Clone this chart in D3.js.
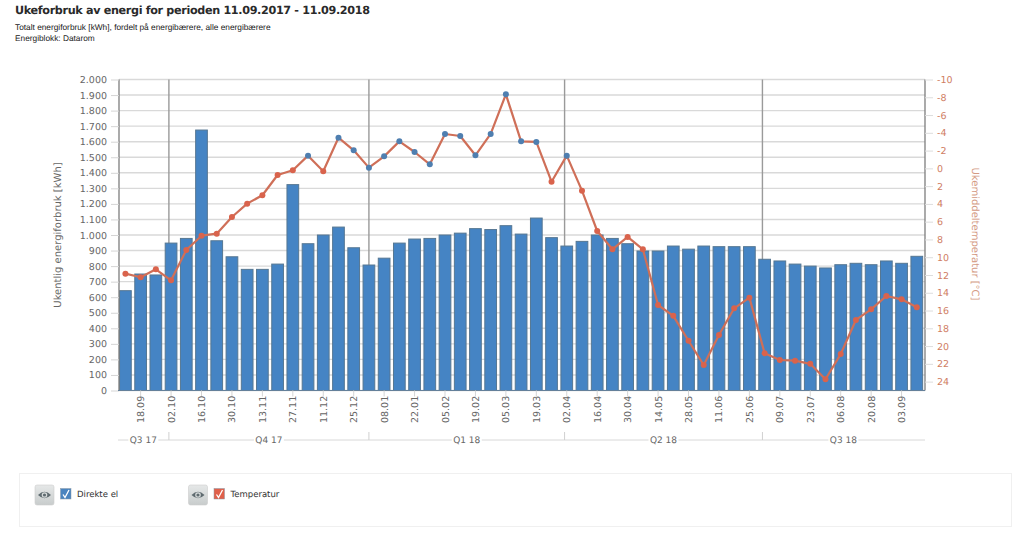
<!DOCTYPE html>
<html><head><meta charset="utf-8">
<script src="https://cdnjs.cloudflare.com/ajax/libs/d3/7.8.5/d3.min.js"></script>
<style>html,body{margin:0;padding:0;background:#fff}svg{display:block}text{text-rendering:geometricPrecision}</style>
</head><body><svg id="c" width="1024" height="538"></svg>
<script>
const categories=["11.09","18.09","25.09","02.10","09.10","16.10","23.10","30.10","06.11","13.11","20.11","27.11","04.12","11.12","18.12","25.12","01.01","08.01","15.01","22.01","29.01","05.02","12.02","19.02","26.02","05.03","12.03","19.03","26.03","02.04","09.04","16.04","23.04","30.04","07.05","14.05","21.05","28.05","04.06","11.06","18.06","25.06","02.07","09.07","16.07","23.07","30.07","06.08","13.08","20.08","27.08","03.09","10.09"];
const tickLabels=["18.09","02.10","16.10","30.10","13.11","27.11","11.12","25.12","08.01","22.01","05.02","19.02","05.03","19.03","02.04","16.04","30.04","14.05","28.05","11.06","25.06","09.07","23.07","06.08","20.08","03.09"];
const energy=[642,749,743,948,978,1675,963,860,779,779,813,1324,944,1000,1051,918,807,851,948,974,978,1000,1012,1041,1035,1060,1006,1109,983,929,959,1000,978,944,897,897,929,909,929,925,925,925,844,833,813,800,788,809,818,809,833,818,863];
const temperature=[11.85,12.26,11.36,12.6,9.19,7.58,7.35,5.47,3.97,3.03,0.75,0.22,-1.43,0.33,-3.45,-2.03,-0.08,-1.35,-3.04,-1.84,-0.45,-3.87,-3.64,-1.47,-3.87,-8.33,-3.04,-2.97,1.5,-1.43,2.51,7.05,9.11,7.72,9.11,15.38,16.6,19.4,22.13,18.75,15.75,14.55,20.8,21.57,21.64,22.0,23.74,20.9,17.06,15.87,14.36,14.74,15.64];
const leftTicks=[0,100,200,300,400,500,600,700,800,900,1000,1100,1200,1300,1400,1500,1600,1700,1800,1900,2000];
const rightTicks=[-10,-8,-6,-4,-2,0,2,4,6,8,10,12,14,16,18,20,22,24];
const quarterDates=["2017-10-01","2018-01-01","2018-04-01","2018-07-01"];
const quarters=[["Q3 17","2017-09-07T12:00Z","2017-10-01"],["Q4 17","2017-10-01","2018-01-01"],["Q1 18","2018-01-01","2018-04-01"],["Q2 18","2018-04-01","2018-07-01"],["Q3 18","2018-07-01","2018-09-13T12:00Z"]];
const titleText="Ukeforbruk av energi for perioden 11.09.2017 - 11.09.2018";
const subtitleLines=["Totalt energiforbruk [kWh], fordelt på energibærere, alle energibærere","Energiblokk: Datarom"];
const legendItems=[["Direkte el","#4a84bf"],["Temperatur","#e0604a"]];

const L=119,R=925,T=79.5,B=390.5;
const svg=d3.select("#c");
const font="'DejaVu Sans',sans-serif";
const x=d3.scaleBand().domain(categories).range([L-1.2,R-0.6]).paddingInner(0.23).paddingOuter(0.115);
const xt=d3.scaleUtc().domain([new Date("2017-09-07T12:00Z"),new Date("2018-09-13T12:00Z")]).range([L-1.2,R-0.6]);
const y=d3.scaleLinear().domain([0,2000]).range([B,T]);
const y2=d3.scaleLinear().domain([-10,25]).range([T,B]);
const cx=d=>x(d)+x.bandwidth()/2;

// headings
svg.append("text").attr("x",15).attr("y",13.7).attr("font-family",font).attr("font-weight","bold").attr("font-size",11.2).attr("fill","#2a2a2a").attr("textLength",355).text(titleText);
subtitleLines.forEach((s,i)=>svg.append("text").attr("x",15).attr("y",30.3+i*11).attr("font-family","'Liberation Sans',sans-serif").attr("font-size",8.3).attr("fill","#222").text(s));

// grid
svg.append("g").selectAll("line").data(leftTicks).join("line").attr("x1",L).attr("x2",R).attr("y1",d=>y(d)).attr("y2",d=>y(d)).attr("stroke","#d9d9d9").attr("stroke-width",1.4);
// quarter lines in plot
svg.append("g").selectAll("line").data(quarterDates).join("line").attr("x1",d=>xt(new Date(d))).attr("x2",d=>xt(new Date(d))).attr("y1",T).attr("y2",B).attr("stroke","#9a9a9a").attr("stroke-width",1.4);

// bars
svg.append("g").selectAll("rect").data(energy).join("rect")
 .attr("x",(d,i)=>x(categories[i])).attr("width",x.bandwidth())
 .attr("y",d=>y(d)).attr("height",d=>B-y(d))
 .attr("fill","#4584c4").attr("stroke","#567792").attr("stroke-width",1);

// axes
const ga=d3.axisLeft(y).tickValues(leftTicks).tickFormat(d=>d===0?"0":d3.format(",")(d).replace(",",".")).tickSize(8).tickPadding(4);
const gl=svg.append("g").attr("transform",`translate(${L},0)`).call(ga);
gl.selectAll("text").attr("font-family",font).attr("font-size",9.5).attr("fill","#666");
gl.selectAll(".tick line").attr("stroke","#d5d5d5");
gl.select(".domain").attr("stroke","#7d7d7d").attr("stroke-width",1.3).attr("d",`M0,${T}V${B}`);

const gb=d3.axisRight(y2).tickValues(rightTicks).tickSize(8).tickPadding(4).tickFormat(d=>String(d));
const gr=svg.append("g").attr("transform",`translate(${R},0)`).call(gb);
gr.selectAll("text").attr("font-family",font).attr("font-size",9.5).attr("fill","#cf7d62");
gr.selectAll(".tick line").attr("stroke","#ddd");
gr.select(".domain").attr("stroke","#7d7d7d").attr("stroke-width",1.3).attr("d",`M0,${T}V${B}`);

// bottom axis
svg.append("line").attr("x1",L-1).attr("x2",R).attr("y1",B).attr("y2",B).attr("stroke","#64809a").attr("stroke-width",1.2);
const gx=svg.append("g").selectAll("g").data(tickLabels).join("g").attr("transform",d=>`translate(${cx(d)},${B})`);
gx.append("line").attr("y1",0).attr("y2",6).attr("stroke","#d5d5d5");
gx.append("text").attr("transform","translate(3.5,32.5) rotate(-90)").attr("font-family",font).attr("font-size",9.5).attr("fill","#666").text(d=>d);

// quarter axis
const qy=440;
svg.append("line").attr("x1",L-1).attr("x2",R).attr("y1",qy).attr("y2",qy).attr("stroke","#d8d8d8");
svg.append("g").selectAll("line").data(quarterDates).join("line").attr("x1",d=>xt(new Date(d))).attr("x2",d=>xt(new Date(d))).attr("y1",432).attr("y2",qy).attr("stroke","#d0d0d0");
const qg=svg.append("g").selectAll("g").data(quarters).join("g").attr("transform",q=>`translate(${(xt(new Date(q[1]))+xt(new Date(q[2])))/2},${qy})`);
qg.append("rect").attr("x",-15).attr("width",30).attr("y",-6).attr("height",12).attr("fill","#fff");
qg.append("text").attr("text-anchor","middle").attr("y",3.3).attr("font-family",font).attr("font-size",9).attr("fill","#666").text(q=>q[0]);

// line
svg.append("path").datum(temperature).attr("fill","none").attr("stroke","#cf6f58").attr("stroke-width",2.2).attr("stroke-linejoin","round")
 .attr("d",d3.line().x((d,i)=>cx(categories[i])).y(d=>y2(d)));
svg.append("g").selectAll("circle").data(temperature).join("circle")
 .attr("cx",(d,i)=>cx(categories[i])).attr("cy",d=>y2(d)).attr("r",3)
 .attr("fill",d=>d<0?"#4f7fb0":"#d9634c");

// axis titles
svg.append("text").attr("transform","translate(61,235) rotate(-90)").attr("text-anchor","middle").attr("font-family",font).attr("font-size",10).attr("fill","#666").text("Ukentlig energiforbruk [kWh]");
svg.append("text").attr("transform","translate(972,234) rotate(90)").attr("text-anchor","middle").attr("font-family",font).attr("font-size",10).attr("fill","#d49a84").text("Ukemiddeltemperatur [°C]");

// legend
svg.append("rect").attr("x",19.5).attr("y",473.5).attr("width",992).attr("height",53).attr("fill","#fff").attr("stroke","#f0f0f0");
const defs=svg.append("defs");
const grad=defs.append("linearGradient").attr("id","btn").attr("x1",0).attr("x2",0).attr("y1",0).attr("y2",1);
grad.append("stop").attr("offset",0).attr("stop-color","#e6e8e8");
grad.append("stop").attr("offset",1).attr("stop-color","#c8cccc");
const lg=svg.append("g").selectAll("g").data(legendItems).join("g").attr("transform",(d,i)=>`translate(${35+i*153.5},485)`);
lg.append("rect").attr("width",19).attr("height",20).attr("rx",2).attr("fill","url(#btn)").attr("stroke","#ccc").attr("stroke-width",0.6);
lg.append("path").attr("d","M3,10 Q9.5,3.5 16,10 Q9.5,16.5 3,10Z").attr("fill","#5f6b70");
lg.append("circle").attr("cx",9.5).attr("cy",10).attr("r",2.8).attr("fill","#d8dcdc");
lg.append("circle").attr("cx",9.5).attr("cy",10).attr("r",1.6).attr("fill","#5f6b70");
lg.append("rect").attr("x",25.5).attr("y",3.5).attr("width",10.5).attr("height",10.5).attr("fill",d=>d[1]).attr("stroke","#8a9aa8").attr("stroke-width",0.5);
lg.append("path").attr("d","M28,9.5 L30,12.5 L34,5").attr("fill","none").attr("stroke","#fff").attr("stroke-width",1.3);
lg.append("text").attr("x",42).attr("y",12.3).attr("font-family",font).attr("font-size",8.5).attr("fill","#333").text(d=>d[0]);
</script></body></html>
